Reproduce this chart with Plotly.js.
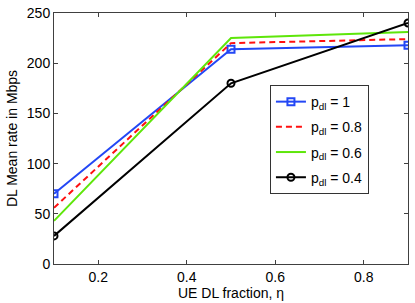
<!DOCTYPE html>
<html><head><meta charset="utf-8">
<script src="https://cdn.plot.ly/plotly-3.0.1.min.js"></script>
<style>html,body{margin:0;padding:0;background:#fff}#chart{width:415px;height:303px}</style>
</head><body><div id="chart"></div>
<script>
const eta = [0.1, 0.5, 0.9];
const p1 = [70, 214, 218];
const p08 = [56, 220, 224];
const p06 = [43, 225, 231];
const p04 = [28, 180, 240];
const names = ['p<sub>dl</sub> = 1','p<sub>dl</sub> = 0.8','p<sub>dl</sub> = 0.6','p<sub>dl</sub> = 0.4'];
const xTicks = [0.2, 0.4, 0.6, 0.8];
const yTicks = [0, 50, 100, 150, 200, 250];

const traces = [
  {x: eta, y: p1, name: names[0], legendgroup: 'a', mode: 'lines+markers', line: {color: '#2347f5', width: 2},
   marker: {symbol: 'square-open', size: 7, color: '#2347f5', line: {width: 2}}},
  {x: eta, y: p08, name: names[1], legendgroup: 'b', mode: 'lines', line: {color: '#ff1010', width: 2, dash: '6px,4px'}},
  {x: eta, y: p06, name: names[2], legendgroup: 'c', mode: 'lines', line: {color: '#5ee60a', width: 2}},
  {x: eta, y: p04, name: names[3], legendgroup: 'd', mode: 'lines+markers', line: {color: '#000000', width: 2},
   marker: {symbol: 'circle-open', size: 7, color: '#000000', line: {width: 2}}}
];
const axisCommon = {showline: true, mirror: 'ticks', linecolor: '#404040', linewidth: 1,
  ticks: 'inside', ticklen: 4, tickcolor: '#404040', showgrid: false, zeroline: false,
  tickfont: {family: 'Liberation Sans, Arial, sans-serif', size: 14, color: '#000'}};
const layout = {
  width: 415, height: 303,
  margin: {l: 54, r: 7, t: 13, b: 39},
  paper_bgcolor: '#fff', plot_bgcolor: '#fff',
  showlegend: true,
  font: {family: 'Liberation Sans, Arial, sans-serif', size: 14, color: '#000'},
  xaxis: Object.assign({}, axisCommon, {range: [0.1, 0.9], tickvals: xTicks, ticktext: xTicks.map(String),
    title: {text: 'UE DL fraction, η', standoff: 1, font: {size: 14}}}),
  yaxis: Object.assign({}, axisCommon, {range: [0, 250], tickvals: yTicks, ticktext: yTicks.map(String),
    title: {text: 'DL Mean rate in Mbps', standoff: 5, font: {size: 14}}}),
  legend: {x: 0.61, y: 0.713, xanchor: 'left', yanchor: 'top', bgcolor: '#fff',
    bordercolor: '#333', borderwidth: 1, font: {size: 14}, tracegroupgap: 4, itemwidth: 30}
};
Plotly.newPlot('chart', traces, layout, {staticPlot: true, displayModeBar: false});
</script></body></html>
